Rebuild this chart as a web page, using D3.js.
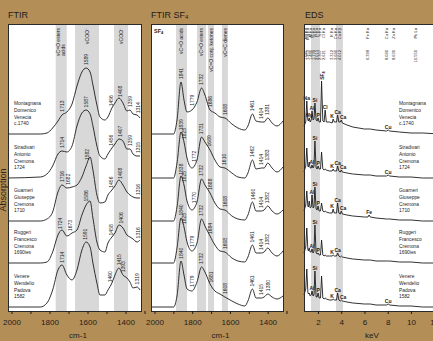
<!DOCTYPE html>
<html>
<head>
<meta charset="utf-8">
<script src="https://cdn.jsdelivr.net/npm/d3@7"></script>
<style>
  html, body { margin: 0; padding: 0; background: #b48e57; }
  svg { display: block; font-family: "Liberation Sans", Arial, sans-serif; }
</style>
</head>
<body>
<svg id="chart" width="433" height="341"></svg>
<script>
// Instruments, one block of lines per sample
const sampleNames = [
  ['Montagnana', 'Domenico', 'Venecia', 'c.1740'],
  ['Stradivari', 'Antonio', 'Cremona', '1724'],
  ['Guarneri', 'Giuseppe', 'Cremona', '1710'],
  ['Ruggeri', 'Francesco', 'Cremona', '1690ies'],
  ['Venere', 'Wendelio', 'Padova', '1582']
];

// stacking offset of each trace (arbitrary absorbance / counts units)
const traceOffsets = [177, 133, 90, 48, 4];

// ---- FTIR (untreated) ----
const ftirWavenumbers = [2000, 1830, 1795, 1765, 1737, 1716, 1690, 1663, 1637, 1611, 1589, 1568, 1553,
  1532, 1516, 1490, 1474, 1453, 1437, 1416, 1395, 1374, 1358, 1342, 1321, 1305];
const ftirMontagnana = [0, 0, 1, 6, 13, 19, 22, 30, 48, 62, 66, 62, 49, 29, 17, 14, 17, 26, 31, 36, 31, 23, 24, 20, 19, 16];
const ftirStradivari = [0, 1, 4, 12, 24, 27, 26, 32, 52, 65, 68, 64, 52, 32, 22, 19, 24, 30, 34, 39, 37, 29, 29, 24, 22, 22];
const ftirGuarneri = [0, 0, 2, 9, 29, 36, 33, 34, 36, 44, 55, 64, 51, 26, 18, 19, 26, 31, 35, 41, 36, 29, 26, 24, 23, 23];
const ftirRuggeri = [0, 0, 1, 11, 28, 33, 27, 30, 33, 48, 58, 62, 45, 21, 13, 11, 20, 26, 30, 38, 35, 28, 26, 24, 21, 23];
const ftirVenere = [0, 0, 4, 17, 37, 42, 32, 27, 37, 57, 65, 60, 44, 24, 12, 12, 17, 24, 32, 39, 32, 29, 25, 19, 20, 17];
const ftirPeaks = [
  [1713, 1589, 1456, 1408, 1359, 1314],
  [1714, 1587, 1456, 1407, 1359, 1315],
  [1716, 1682, 1582, 1456, 1408, 1316],
  [1724, 1673, 1586, 1458, 1406, 1316],
  [1714, 1591, 1460, 1415, 1393, 1319]
];
const ftirBands = [[1749, 1691], [1647, 1521], [1442, 1368]];
const ftirBandLabels = [['νC=O esters', 'acids'], ['νCOO⁻'], ['νCOO⁻']];

// ---- FTIR after SF4 treatment ----
const sf4Wavenumbers = [2000, 1880, 1862, 1841, 1825, 1809, 1783, 1756, 1732, 1714, 1687, 1661, 1634,
  1608, 1571, 1539, 1502, 1486, 1462, 1443, 1414, 1400, 1381, 1358, 1332, 1300];
const sf4Montagnana = [0, 0, 14, 52, 34, 22, 24, 32, 46, 39, 24, 21, 17, 16, 10, 6, 4, 8, 20, 13, 12, 12, 16, 11, 8, 13];
const sf4Stradivari = [0, 0, 15, 46, 36, 20, 10, 18, 41, 36, 28, 18, 11, 10, 5, 1, 0, 5, 18, 9, 10, 10, 15, 10, 6, 11];
const sf4Guarneri = [0, 0, 14, 45, 36, 20, 11, 19, 42, 36, 28, 18, 12, 11, 5, 2, 1, 6, 19, 10, 10, 11, 15, 10, 7, 11];
const sf4Ruggeri = [0, 0, 15, 45, 36, 21, 12, 20, 44, 37, 27, 18, 12, 11, 5, 2, 1, 6, 18, 10, 10, 11, 15, 10, 7, 12];
const sf4Venere = [0, 0, 11, 46, 32, 18, 16, 25, 40, 35, 23, 16, 13, 10, 6, 3, 1, 6, 18, 9, 9, 10, 13, 10, 8, 11];
const sf4Peaks = [
  [1841, 1779, 1732, 1686, 1608, 1461, 1414, 1381],
  [1839, 1825, 1772, 1731, 1689, 1610, 1462, 1414, 1383],
  [1838, 1825, 1770, 1732, 1688, 1608, 1460, 1414, 1382],
  [1840, 1825, 1779, 1732, 1684, 1608, 1461, 1414, 1382],
  [1840, 1779, 1732, 1681, 1608, 1461, 1415, 1380]
];
const sf4Bands = [[1867, 1809], [1756, 1708], [1698, 1666], [1624, 1592]];
const sf4BandLabels = [['νC=O acids'], ['νC=O esters'], ['νC=O conj. ketones'], ['νC=C dienes']];

// ---- EDS ----
const edsEnergies = [0.8, 0.95, 1.04, 1.13, 1.18, 1.25, 1.33, 1.42, 1.49, 1.58, 1.66, 1.74, 1.84, 1.93,
  2.01, 2.1, 2.22, 2.31, 2.42, 2.53, 2.62, 2.72, 3.0, 3.22, 3.31, 3.4, 3.6, 3.69, 3.8, 3.92, 4.01, 4.1,
  4.5, 5.0, 6.0, 6.3, 6.4, 6.5, 7.0, 7.9, 8.04, 8.18, 9.0, 10.0, 11.0, 12.5];
const edsMontagnana = [8, 12, 33, 14, 13, 16, 12, 14, 23, 14, 15, 31, 14, 13, 16, 12, 12, 53, 13, 12, 24, 12,
  12, 11, 15, 12, 12, 19, 12, 12, 14, 11, 9, 7, 5, 5, 5, 5, 4, 3, 4, 3, 2, 1, 1, 0];
const edsStradivari = [6, 12, 30, 12, 11, 16, 10, 10, 13, 10, 12, 37, 10, 9, 12, 9, 9, 26, 9, 8, 9, 8,
  7, 7, 9, 7, 7, 12, 7, 6, 8, 6, 5, 4, 3, 3, 3, 3, 2, 2, 3, 2, 1, 1, 0, 0];
const edsGuarneri = [10, 16, 30, 15, 14, 20, 13, 14, 26, 13, 14, 34, 12, 11, 15, 10, 10, 18, 10, 9, 10, 9,
  8, 8, 12, 8, 8, 18, 8, 7, 10, 7, 6, 5, 4, 4, 6, 4, 3, 2, 2, 2, 1, 1, 0, 0];
const edsRuggeri = [10, 16, 35, 14, 12, 15, 11, 11, 14, 10, 12, 38, 10, 9, 10, 8, 8, 23, 8, 7, 8, 7,
  7, 7, 8, 7, 7, 10, 7, 6, 7, 6, 5, 4, 3, 3, 3, 3, 2, 2, 2, 2, 1, 1, 0, 0];
const edsVenere = [12, 18, 38, 15, 13, 14, 11, 12, 16, 11, 12, 36, 10, 10, 14, 9, 9, 31, 9, 8, 9, 8,
  7, 7, 8, 7, 7, 14, 7, 6, 7, 6, 5, 4, 3, 3, 3, 3, 2, 2, 3, 2, 1, 1, 0, 0];
const edsLineNames = ['Na Kα', 'Mg Kα', 'Al Kα', 'Si Kα', 'P Kα', 'S Kα', 'Cl Kα', 'K Kα', 'Ca Kα', 'Ca Kβ', 'Fe Kα', 'Cu Kα', 'Zn Kα', 'Pb Lα'];
const edsLineEnergies = [1.041, 1.253, 1.486, 1.739, 2.013, 2.307, 2.621, 3.312, 3.690, 4.012, 6.398, 8.040, 8.630, 10.550];
const edsLabelled = [
  ['Na Kα', 'Mg Kα', 'Al Kα', 'Si Kα', 'P Kα', 'S Kα', 'Cl Kα', 'K Kα', 'Ca Kα', 'Ca Kβ', 'Cu Kα'],
  ['Al Kα', 'Si Kα', 'P Kα', 'K Kα', 'Ca Kα', 'Ca Kβ', 'Cu Kα'],
  ['Al Kα', 'Si Kα', 'P Kα', 'K Kα', 'Ca Kα', 'Ca Kβ', 'Fe Kα'],
  ['Al Kα', 'Si Kα', 'P Kα', 'K Kα', 'Ca Kα'],
  ['Al Kα', 'Si Kα', 'P Kα', 'K Kα', 'Ca Kα', 'Ca Kβ', 'Cu Kα']
];
const edsBands = [[1.40, 2.17], [3.55, 4.15]];

const cmTicks = [2000, 1800, 1600, 1400];
const keVTicks = [2, 4, 6, 8, 10, 12];

const ink = '#1c1c1c';
const plotTop = 24, plotBottom = 311;
const svg = d3.select('#chart');
const y = d3.scaleLinear().domain([0, 287]).range([plotBottom, plotTop]);

const xFtir = d3.scaleLinear().domain([2000, 1300]).range([8, 141]);
const xSf4 = d3.scaleLinear().domain([2000, 1300]).range([151, 283]);
const xEds = d3.scaleLinear().domain([0.8, 12.5]).range([304, 440]);

function plotArea(x) {
  const [x0, x1] = x.range();
  svg.append('rect').attr('x', x0).attr('y', plotTop)
    .attr('width', x1 - x0).attr('height', plotBottom - plotTop).attr('fill', '#fff');
}

function frame(x) {
  const [x0, x1] = x.range();
  svg.append('rect').attr('x', x0 + 0.5).attr('y', plotTop + 0.5)
    .attr('width', x1 - x0).attr('height', plotBottom - plotTop)
    .attr('fill', 'none').attr('stroke', '#2a2a2a').attr('stroke-width', 1);
}

function bands(x, ranges, labels) {
  svg.append('g').selectAll('rect').data(ranges).join('rect')
    .attr('x', d => Math.min(x(d[0]), x(d[1])))
    .attr('width', d => Math.abs(x(d[1]) - x(d[0])))
    .attr('y', plotTop).attr('height', plotBottom - plotTop)
    .attr('fill', '#d8d8d8');
  if (!labels) return;
  ranges.forEach((d, i) => {
    const cx = (x(d[0]) + x(d[1])) / 2;
    const lines = labels[i];
    let len = 0;
    lines.forEach((s, k) => {
      const lx = cx + (k - (lines.length - 1) / 2) * 5;
      const t = svg.append('text')
        .attr('font-size', 5).attr('fill', ink).attr('dy', '0.35em')
        .text(s);
      if (k === 0) {
        t.attr('text-anchor', 'end').attr('transform', `translate(${lx},${plotTop + 4}) rotate(-90)`);
        len = t.node().getComputedTextLength();
      } else {
        // extra lines end where the first one starts
        t.attr('text-anchor', 'start').attr('transform', `translate(${lx},${plotTop + 4 + len}) rotate(-90)`);
      }
    });
  });
}

function traces(x, grid, series, curve) {
  series.forEach((vals, i) => {
    const line = d3.line()
      .x((d, j) => x(grid[j]))
      .y(d => y(d + traceOffsets[i]))
      .curve(curve);
    svg.append('path').datum(vals).attr('d', line)
      .attr('fill', 'none').attr('stroke', ink).attr('stroke-width', 0.9)
      .attr('stroke-linejoin', 'round');
  });
}

function peakLabels(x, grid, series, peaks) {
  series.forEach((vals, i) => {
    const at = d3.scaleLinear().domain(grid).range(vals);
    peaks[i].forEach(p => {
      const py = y(at(p) + traceOffsets[i]) - 3;
      svg.append('text')
        .attr('transform', `translate(${x(p)},${py}) rotate(-90)`)
        .attr('dy', '0.35em').attr('font-size', 5).attr('fill', ink)
        .text(p);
    });
  });
}

function names(xPos) {
  sampleNames.forEach((lines, i) => {
    const base = y(traceOffsets[i]) - 29;
    const g = svg.append('g').attr('transform', `translate(${xPos},${base}) scale(0.84,1)`);
    lines.forEach((s, k) => {
      g.append('text').attr('y', k * 6.8).attr('font-size', 5.8).attr('fill', ink).text(s);
    });
  });
}

function axis(x, ticks, values, shift, label) {
  const g = svg.append('g')
    .attr('transform', `translate(${shift},${plotBottom})`)
    .call(d3.axisBottom(x).tickValues(values).tickSize(3).tickPadding(5)
      .tickFormat(d => ticks.includes(d) ? d : ''));
  g.select('.domain').remove();
  g.selectAll('line').attr('stroke', ink);
  g.selectAll('text').attr('font-size', 8).attr('font-family', 'Liberation Sans, Arial, sans-serif').attr('fill', ink);
  const [x0, x1] = x.range();
  svg.append('text').attr('x', (x0 + x1) / 2 + shift).attr('y', 338)
    .attr('text-anchor', 'middle').attr('font-size', 8).attr('fill', ink).text(label);
}

function title(xPos, text, sub) {
  const t = svg.append('text').attr('x', xPos).attr('y', 17.5)
    .attr('font-size', 9).attr('fill', ink).text(text);
  if (sub) t.append('tspan').attr('font-size', 6).attr('dy', 1.5).text(sub);
}

// ---------- FTIR ----------
const ftirSeries = [ftirMontagnana, ftirStradivari, ftirGuarneri, ftirRuggeri, ftirVenere];
plotArea(xFtir);
bands(xFtir, ftirBands, ftirBandLabels);
traces(xFtir, ftirWavenumbers, ftirSeries, d3.curveMonotoneX);
peakLabels(xFtir, ftirWavenumbers, ftirSeries, ftirPeaks);
names(14);
frame(xFtir);
axis(xFtir, cmTicks, d3.range(2000, 1299, -100), 3.5, 'cm-1');
title(8, 'FTIR');
svg.append('text')
  .attr('transform', 'translate(5.5,190) rotate(-90)')
  .attr('text-anchor', 'middle').attr('font-size', 9).attr('fill', '#2b2418')
  .text('Absorption');

// ---------- FTIR SF4 ----------
const sf4Series = [sf4Montagnana, sf4Stradivari, sf4Guarneri, sf4Ruggeri, sf4Venere];
plotArea(xSf4);
bands(xSf4, sf4Bands, sf4BandLabels);
traces(xSf4, sf4Wavenumbers, sf4Series, d3.curveMonotoneX);
peakLabels(xSf4, sf4Wavenumbers, sf4Series, sf4Peaks);
const sf4Tag = svg.append('text').attr('x', 154).attr('y', 33)
  .attr('font-size', 5.5).attr('font-weight', 'bold').attr('fill', ink).text('SF');
sf4Tag.append('tspan').attr('font-size', 4).attr('dy', 1).text('4');
frame(xSf4);
axis(xSf4, cmTicks, d3.range(2000, 1299, -100), 3.5, 'cm-1');
title(151, 'FTIR SF', '4');

// ---------- EDS ----------
const edsSeries = [edsMontagnana, edsStradivari, edsGuarneri, edsRuggeri, edsVenere];
plotArea(xEds);
bands(xEds, edsBands);
traces(xEds, edsEnergies, edsSeries, d3.curveLinear);

// emission line reference labels along the top
edsLineNames.forEach((n, i) => {
  const lx = xEds(edsLineEnergies[i]) - 1.5;
  svg.append('text').attr('transform', `translate(${lx},28) rotate(-90)`)
    .attr('text-anchor', 'end').attr('dy', '0.35em').attr('font-size', 4).attr('fill', ink).text(n);
  svg.append('text').attr('transform', `translate(${lx},50) rotate(-90)`)
    .attr('text-anchor', 'end').attr('dy', '0.35em').attr('font-size', 4).attr('fill', ink)
    .text(edsLineEnergies[i].toFixed(3));
});

// small sideways nudges so neighbouring K / Ca / Ca labels do not collide
const edsNudge = { 'K Kα': -1.2, 'Ca Kβ': 1.8 };
edsSeries.forEach((vals, i) => {
  const at = d3.scaleLinear().domain(edsEnergies).range(vals);
  edsLabelled[i].forEach(n => {
    const e = edsLineEnergies[edsLineNames.indexOf(n)];
    const el = n.split(' ')[0];
    const py = y(at(e) + traceOffsets[i]) - 1.5;
    if (el === 'S') {
      const t = svg.append('text').attr('transform', `translate(${xEds(e) + 1},${py - 1}) rotate(-90)`)
        .attr('font-size', 5).attr('font-weight', 'bold').attr('dy', '0.35em').attr('fill', ink).text('SF');
      t.append('tspan').attr('font-size', 3.6).attr('dy', 1).text('4');
    } else {
      svg.append('text').attr('x', xEds(e) + (edsNudge[n] || 0)).attr('y', py)
        .attr('text-anchor', 'middle').attr('font-size', 5).attr('font-weight', 'bold')
        .attr('fill', ink).text(el);
    }
  });
});
names(399);
frame(xEds);
axis(xEds, keVTicks, keVTicks, 0, 'keV');
title(305, 'EDS');
</script>
</body>
</html>
